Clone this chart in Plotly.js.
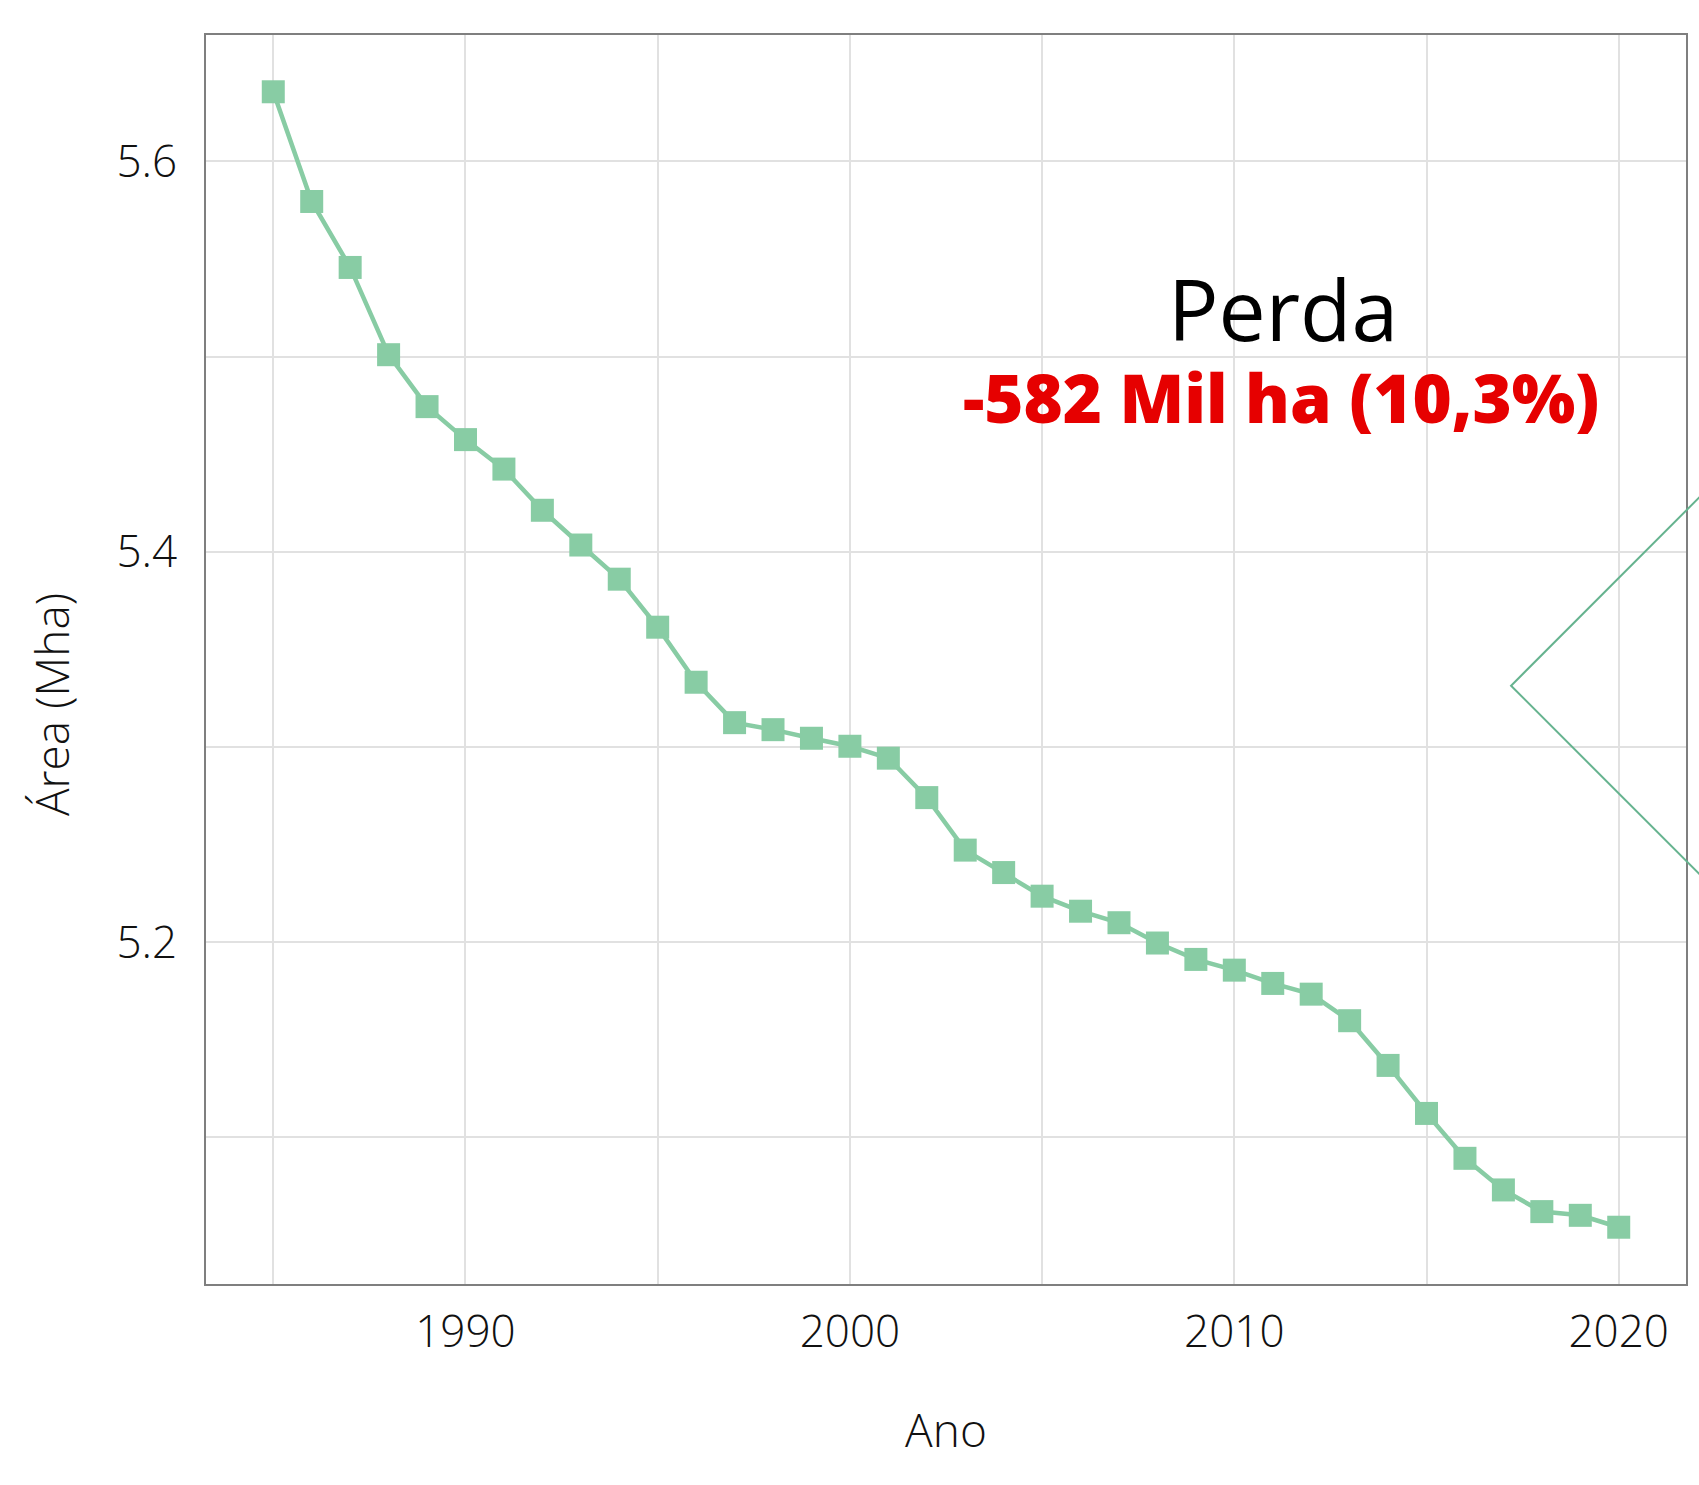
<!DOCTYPE html>
<html>
<head>
<meta charset="utf-8">
<script src="https://cdn.plot.ly/plotly-3.0.1.min.js"></script>
<style>html,body{margin:0;padding:0;background:#fff;}#chart{width:1699px;height:1485px;}</style>
</head>
<body>
<div id="chart"></div>
<script>
const anos = [1985,1986,1987,1988,1989,1990,1991,1992,1993,1994,1995,1996,1997,1998,1999,2000,2001,2002,2003,2004,2005,2006,2007,2008,2009,2010,2011,2012,2013,2014,2015,2016,2017,2018,2019,2020];
const areaMha = [5.6357,5.5795,5.5457,5.5010,5.4744,5.4575,5.4424,5.4213,5.4035,5.3860,5.3614,5.3332,5.3125,5.3089,5.3045,5.3004,5.2943,5.2741,5.2472,5.2357,5.2236,5.2159,5.2100,5.1996,5.1912,5.1857,5.1789,5.1734,5.1598,5.1369,5.1123,5.0893,5.0731,5.0620,5.0601,5.0540];
const tituloPerda = "Perda";
const textoPerda = "-582 Mil ha (10,3%)";
const tituloX = "Ano";
const tituloY = "Área (Mha)";

const xmin = Math.min(...anos), xmax = Math.max(...anos);
const ymin = Math.min(...areaMha), ymax = Math.max(...areaMha);
const xpad = (xmax - xmin) * 0.05, ypad = (ymax - ymin) * 0.05;

const green = '#88cca4';
const grid = '#e1e1e1';
const font = {family: '"Open Sans", "Noto Sans", sans-serif', size: 44, color: '#111111', weight: 300};

const trace = {
  x: anos, y: areaMha, type: 'scatter', mode: 'lines+markers',
  line: {color: green, width: 4.5},
  marker: {symbol: 'square', size: 23, color: green},
  showlegend: false, hoverinfo: 'x+y'
};

// chevron outline (part of an arrow shape at the right edge)
const vx = 0.8818, vy = 0.4790;
const chevron = {
  type: 'path', xref: 'paper', yref: 'paper', layer: 'above',
  path: `M 1.0223 0.6456 L ${vx} ${vy} L 1.0223 0.3125`,
  line: {color: '#66b38f', width: 2}
};

const layout = {
  width: 1699, height: 1485,
  margin: {l: 206, r: 13, t: 35, b: 201},
  paper_bgcolor: '#ffffff', plot_bgcolor: '#ffffff',
  font: font,
  xaxis: {
    range: [xmin - xpad, xmax + xpad],
    tick0: 1990, dtick: 10, ticks: '', tickfont: font,
    ticklabelstandoff: 8,
    showgrid: true, gridcolor: grid, gridwidth: 2,
    minor: {tick0: 1985, dtick: 5, showgrid: true, gridcolor: grid, gridwidth: 2},
    zeroline: false, showline: true, mirror: true, linecolor: '#7f7f7f', linewidth: 2,
    title: {text: tituloX, font: {family: font.family, size: 46, color: '#111111', weight: 300}, standoff: 56},
    automargin: false
  },
  yaxis: {
    range: [ymin - ypad, ymax + ypad],
    tick0: 5.2, dtick: 0.2, tickformat: '.1f', ticks: '', tickfont: font,
    ticklabelstandoff: 18,
    showgrid: true, gridcolor: grid, gridwidth: 2,
    minor: {tick0: 5.1, dtick: 0.1, showgrid: true, gridcolor: grid, gridwidth: 2},
    zeroline: false, showline: true, mirror: true, linecolor: '#7f7f7f', linewidth: 2,
    automargin: false
  },
  shapes: [chevron],
  annotations: [
    {text: tituloY, xref: 'paper', yref: 'paper', x: -0.1047, y: 0.4636, textangle: -90,
     xanchor: 'center', yanchor: 'middle', showarrow: false,
     font: {family: font.family, size: 46, color: '#111111', weight: 300}},
    {text: tituloPerda, xref: 'paper', yref: 'paper', x: 0.7277, y: 0.7810,
     xanchor: 'center', yanchor: 'middle', showarrow: false,
     font: {family: font.family, size: 84, color: '#000000', weight: 400}},
    {text: textoPerda, xref: 'paper', yref: 'paper', x: 0.7264, y: 0.7100,
     xanchor: 'center', yanchor: 'middle', showarrow: false,
     font: {family: font.family, size: 67, color: '#e60000', weight: 800}}
  ]
};

Plotly.newPlot('chart', [trace], layout, {displayModeBar: false, staticPlot: true});
</script>
</body>
</html>
